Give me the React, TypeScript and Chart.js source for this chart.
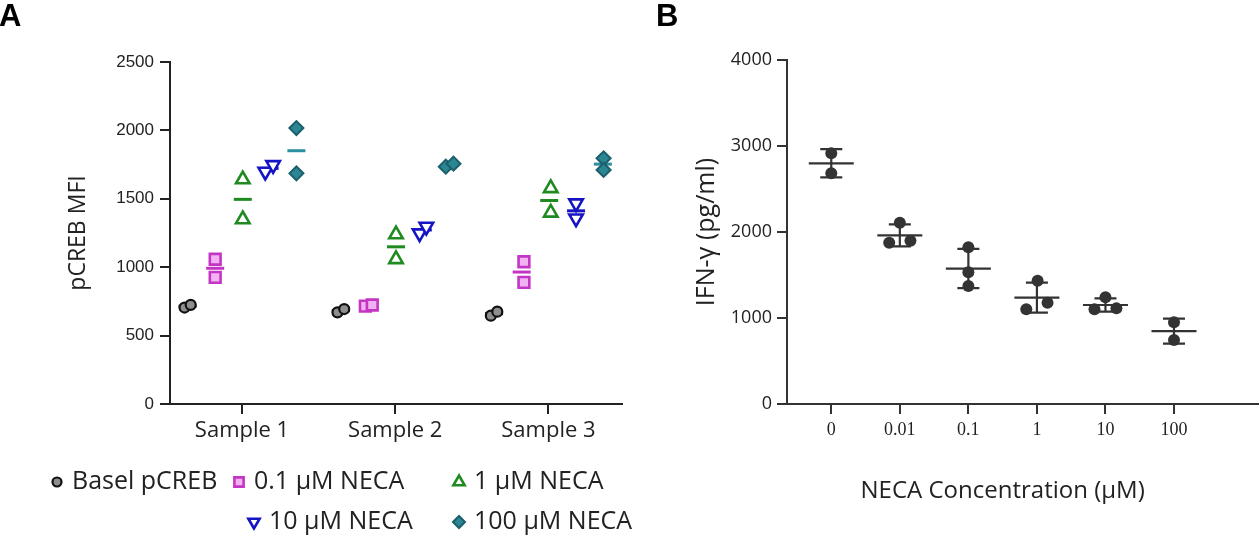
import React, { useEffect, useRef } from 'react';
import { Chart, registerables } from 'chart.js';
import { drawPoint } from 'chart.js/helpers';

Chart.register(...registerables);

// ---------------- Panel A data ----------------
const samples = ['Sample 1', 'Sample 2', 'Sample 3'];
const basal = [[705, 725], [670, 694], [646, 675]];
const neca01 = [[1058, 926], [716, 724], [1040, 889]];
const neca1 = [[1642, 1350], [1240, 1058], [1577, 1398]];
const neca10 = [[1698, 1747], [1248, 1296], [1467, 1357]];
const neca100 = [[2017, 1686], [1735, 1757], [1796, 1711]];
const yTicksA = [0, 500, 1000, 1500, 2000, 2500];

// ---------------- Panel B data ----------------
const concLabels = ['0', '0.01', '0.1', '1', '10', '100'];
const ifng = [
  [2915, 2683],
  [1876, 2108, 1899],
  [1822, 1531, 1372],
  [1101, 1434, 1178],
  [1101, 1240, 1112],
  [950, 744],
];
const yTicksB = [0, 1000, 2000, 3000, 4000];

// ---------------- layout / style ----------------
const INK = '#222222';
const SANS = "'Open Sans', sans-serif";
const ARIAL = "'Liberation Sans', Arial, sans-serif";
const SERIF = "'Liberation Serif', 'Times New Roman', serif";

const groupsA = [
  {
    label: 'Basel pCREB', data: basal, offset: -0.355,
    jitter: [[-0.02, 0.02], [-0.022, 0.022], [-0.021, 0.021]],
    pointStyle: 'circle', radius: 5, rotation: 0, bg: '#8e8e8e', border: '#111111', bw: 2.2,
    meanColor: '#111111', legendRadius: 4.5,
  },
  {
    label: '0.1 \u00b5M NECA', data: neca01, offset: -0.175,
    jitter: [[0, 0], [-0.02, 0.025], [0.015, 0.015]],
    pointStyle: 'rect', radius: 7.6, rotation: 0, bg: '#f0b2f0', border: '#c535c5', bw: 2.6,
    meanColor: '#c535c5', legendRadius: 6.5,
  },
  {
    label: '1 \u00b5M NECA', data: neca1, offset: 0.005,
    jitter: [[0, 0], [0, 0], [0.01, 0.01]],
    pointStyle: 'triangle', radius: 7.8, rotation: 0, bg: '#ffffff', border: '#1f8a1f', bw: 2.6,
    meanColor: '#1f8a1f', legendRadius: 6.5,
  },
  {
    label: '10 \u00b5M NECA', data: neca10, offset: 0.18,
    jitter: [[-0.028, 0.023], [-0.021, 0.023], [0, 0]],
    pointStyle: 'triangle', radius: 7.8, rotation: 180, bg: '#ffffff', border: '#1414c4', bw: 2.6,
    meanColor: '#1414c4', legendRadius: 6.5,
  },
  {
    label: '100 \u00b5M NECA', data: neca100, offset: 0.355,
    jitter: [[0, 0], [-0.025, 0.025], [0.005, 0.005]],
    pointStyle: 'rectRot', radius: 7, rotation: 0, bg: '#2c8593', border: '#1a5f6b', bw: 2,
    meanColor: '#2c8f9f', legendRadius: 6,
  },
];

const legendPos = [
  { x: 57, y: 482 },
  { x: 239, y: 482 },
  { x: 459, y: 482 },
  { x: 254, y: 522 },
  { x: 459, y: 522 },
];

const mean = (a: number[]) => a.reduce((s, v) => s + v, 0) / a.length;
const sd = (a: number[]) => {
  const m = mean(a);
  return Math.sqrt(a.reduce((s, v) => s + (v - m) * (v - m), 0) / (a.length - 1));
};

const jitterB = [[0, 0], [-0.155, 0, 0.155], [0, 0, 0], [-0.155, 0.01, 0.155], [-0.16, 0, 0.16], [0, 0]];

function PanelA() {
  const ref = useRef<HTMLCanvasElement>(null);
  useEffect(() => {
    const pointSets = groupsA.map((g) => ({
      label: g.label,
      data: g.data.flatMap((vals, si) =>
        vals.map((v, k) => ({ x: si + 0.5 + g.offset + g.jitter[si][k], y: v }))
      ),
      pointStyle: g.pointStyle,
      pointRadius: g.radius,
      pointRotation: g.rotation,
      backgroundColor: g.bg,
      borderColor: g.border,
      pointBorderWidth: g.bw,
      showLine: false,
      order: 0,
    }));
    const meanSets = groupsA.map((g) => ({
      label: g.label + ' mean',
      data: g.data.map((vals, si) => ({ x: si + 0.5 + g.offset, y: mean(vals) })),
      pointStyle: 'line',
      pointRadius: 9,
      backgroundColor: g.meanColor,
      borderColor: g.meanColor,
      pointBorderWidth: 3,
      showLine: false,
      order: 1,
    }));

    const overlay = {
      id: 'overlayA',
      afterDraw(chart: any) {
        const ctx = chart.ctx;
        ctx.save();
        ctx.fillStyle = '#000';
        ctx.font = `bold 31px ${ARIAL}`;
        ctx.textBaseline = 'alphabetic';
        ctx.textAlign = 'left';
        ctx.fillText('A', -1, 26);
        groupsA.forEach((g, i) => {
          const p = legendPos[i];
          ctx.fillStyle = g.bg;
          ctx.strokeStyle = g.border;
          ctx.lineWidth = g.bw;
          drawPoint(ctx, { pointStyle: g.pointStyle, radius: g.legendRadius, rotation: g.rotation, borderWidth: g.bw } as any, p.x, p.y);
          ctx.fillStyle = INK;
          ctx.font = `25px ${SANS}`;
          ctx.textBaseline = 'middle';
          ctx.fillText(g.label, p.x + 15, p.y);
        });
        ctx.restore();
      },
    };

    const chart = new Chart(ref.current!, {
      type: 'scatter',
      data: { datasets: [...pointSets, ...meanSets] as any },
      options: {
        responsive: false,
        animation: false,
        events: [],
        layout: { autoPadding: false, padding: { left: 65, top: 62, right: 18, bottom: 0 } },
        plugins: { legend: { display: false }, tooltip: { enabled: false } },
        scales: {
          x: {
            type: 'linear',
            min: 0.03,
            max: 2.98,
            afterBuildTicks: (s: any) => {
              s.ticks = samples.map((_, i) => ({ value: i + 0.5 }));
            },
            afterFit: (s: any) => {
              s.height = 135;
            },
            ticks: {
              callback: (v: any) => samples[Math.round(Number(v) - 0.5)],
              font: { family: SANS, size: 22 },
              color: INK,
              padding: 4,
              maxRotation: 0,
            },
            grid: { drawOnChartArea: false, tickLength: 10, color: INK, lineWidth: 2 },
            border: { color: INK, width: 2 },
          },
          y: {
            min: 0,
            max: 2500,
            afterBuildTicks: (s: any) => {
              s.ticks = yTicksA.map((v) => ({ value: v }));
            },
            afterFit: (s: any) => {
              s.width = 105;
            },
            ticks: { callback: (v: any) => String(v), font: { family: ARIAL, size: 17 }, color: INK, padding: 6 },
            grid: { drawOnChartArea: false, tickLength: 10, color: INK, lineWidth: 2 },
            border: { color: INK, width: 2 },
            title: { display: true, text: 'pCREB MFI', font: { family: SANS, size: 23 }, color: INK, padding: 0 },
          },
        },
      },
      plugins: [overlay],
    });
    return () => chart.destroy();
  }, []);
  return <canvas ref={ref} width={640} height={539} style={{ position: 'absolute', left: 0, top: 0, width: 640, height: 539 }} />;
}

function PanelB() {
  const ref = useRef<HTMLCanvasElement>(null);
  useEffect(() => {
    const points = {
      label: 'IFN-γ',
      data: ifng.flatMap((vals, ci) => vals.map((v, k) => ({ x: ci + jitterB[ci][k], y: v }))),
      pointStyle: 'circle',
      pointRadius: 6,
      backgroundColor: '#333333',
      borderColor: '#333333',
      pointBorderWidth: 0,
      showLine: false,
      order: 0,
    };
    const means = {
      label: 'mean',
      data: ifng.map((vals, ci) => ({ x: ci, y: mean(vals) })),
      pointStyle: 'line',
      pointRadius: 22.5,
      borderColor: '#333333',
      backgroundColor: '#333333',
      pointBorderWidth: 2.2,
      showLine: false,
      order: 1,
    };
    const errorBars = {
      id: 'errorBarsB',
      beforeDatasetsDraw(chart: any) {
        const ctx = chart.ctx;
        const xs = chart.scales.x;
        const ys = chart.scales.y;
        ctx.save();
        ctx.strokeStyle = '#333333';
        ctx.lineWidth = 2.2;
        ifng.forEach((vals, ci) => {
          const m = mean(vals);
          const s = sd(vals);
          const x = xs.getPixelForValue(ci);
          const yt = ys.getPixelForValue(m + s);
          const yb = ys.getPixelForValue(m - s);
          ctx.beginPath();
          ctx.moveTo(x, yt);
          ctx.lineTo(x, yb);
          ctx.moveTo(x - 11, yt);
          ctx.lineTo(x + 11, yt);
          ctx.moveTo(x - 11, yb);
          ctx.lineTo(x + 11, yb);
          ctx.stroke();
        });
        ctx.restore();
      },
      afterDraw(chart: any) {
        const ctx = chart.ctx;
        const xs = chart.scales.x;
        ctx.save();
        ctx.fillStyle = '#000';
        ctx.font = `bold 31px ${ARIAL}`;
        ctx.textAlign = 'left';
        ctx.textBaseline = 'alphabetic';
        ctx.fillText('B', 16, 26);
        ctx.fillStyle = INK;
        ctx.font = `24px ${SANS}`;
        ctx.textAlign = 'center';
        ctx.textBaseline = 'middle';
        ctx.fillText('NECA Concentration (\u00b5M)', xs.getPixelForValue((concLabels.length - 1) / 2), 491);
        ctx.restore();
      },
    };

    const chart = new Chart(ref.current!, {
      type: 'scatter',
      data: { datasets: [points, means] as any },
      options: {
        responsive: false,
        animation: false,
        events: [],
        layout: { autoPadding: false, padding: { left: 52, top: 60, right: 0, bottom: 0 } },
        plugins: { legend: { display: false }, tooltip: { enabled: false } },
        scales: {
          x: {
            type: 'linear',
            min: -0.646,
            max: 6.24,
            afterBuildTicks: (s: any) => {
              s.ticks = concLabels.map((_, i) => ({ value: i }));
            },
            afterFit: (s: any) => {
              s.height = 135;
            },
            ticks: {
              callback: (v: any) => concLabels[Math.round(Number(v))],
              font: { family: SERIF, size: 18 },
              color: INK,
              padding: 5,
              maxRotation: 0,
            },
            grid: { drawOnChartArea: false, tickLength: 10, color: '#333333', lineWidth: 2 },
            border: { color: '#333333', width: 2 },
          },
          y: {
            min: 0,
            max: 4000,
            afterBuildTicks: (s: any) => {
              s.ticks = yTicksB.map((v) => ({ value: v }));
            },
            afterFit: (s: any) => {
              s.width = 95;
            },
            ticks: { callback: (v: any) => String(v), font: { family: SANS, size: 18 }, color: INK, padding: 5 },
            grid: { drawOnChartArea: false, tickLength: 10, color: '#333333', lineWidth: 2 },
            border: { color: '#333333', width: 2 },
            title: { display: true, text: 'IFN-\u03b3 (pg/ml)', font: { family: SANS, size: 25 }, color: INK, padding: 0 },
          },
        },
      },
      plugins: [errorBars],
    });
    return () => chart.destroy();
  }, []);
  return <canvas ref={ref} width={619} height={539} style={{ position: 'absolute', left: 640, top: 0, width: 619, height: 539 }} />;
}

export default function App() {
  return (
    <div style={{ position: 'fixed', left: 0, top: 0, width: 1259, height: 539, background: '#ffffff', overflow: 'hidden' }}>
      <PanelA />
      <PanelB />
    </div>
  );
}
